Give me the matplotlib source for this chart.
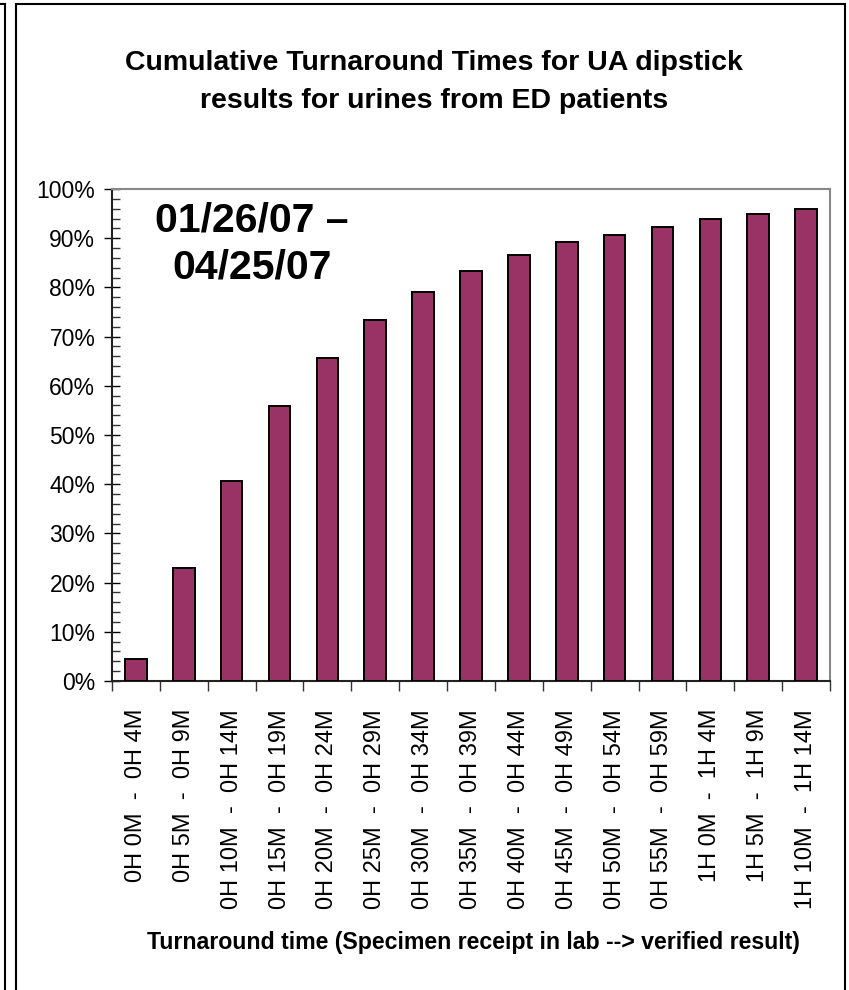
import matplotlib
matplotlib.use("Agg")
import matplotlib.pyplot as plt
from matplotlib.ticker import MultipleLocator, FuncFormatter
from matplotlib.lines import Line2D
from matplotlib.patches import Rectangle
import numpy as np

categories = [
    "0H 0M - 0H 4M", "0H 5M - 0H 9M", "0H 10M - 0H 14M", "0H 15M - 0H 19M",
    "0H 20M - 0H 24M", "0H 25M - 0H 29M", "0H 30M - 0H 34M", "0H 35M - 0H 39M",
    "0H 40M - 0H 44M", "0H 45M - 0H 49M", "0H 50M - 0H 54M", "0H 55M - 0H 59M",
    "1H 0M - 1H 4M", "1H 5M - 1H 9M", "1H 10M - 1H 14M",
]
cumulative_pct = [4.5, 23.0, 40.6, 55.8, 65.7, 73.4, 79.1, 83.3,
                  86.6, 89.2, 90.7, 92.3, 94.0, 94.9, 96.0]

title_text = "Cumulative Turnaround Times for UA dipstick\nresults for urines from ED patients"
date_text = "01/26/07 \u2013\n04/25/07"
xlabel_text = "Turnaround time (Specimen receipt in lab --> verified result)"

plt.rcParams["font.family"] = ["Liberation Sans", "DejaVu Sans"]

W, H = 849, 990
fig = plt.figure(figsize=(W / 100, H / 100), dpi=100)

# frame lines around the slide
fig.add_artist(Line2D([5 / W, 5 / W], [0, 1 - 4 / H], transform=fig.transFigure, color="black", lw=1.5))
fig.add_artist(Line2D([0, 5 / W], [1 - 4 / H, 1 - 4 / H], transform=fig.transFigure, color="black", lw=1.5))
fig.add_artist(Rectangle((16 / W, -0.05), (845 - 16) / W, 1.05 - 4 / H, transform=fig.transFigure,
                         fill=False, edgecolor="black", lw=1.5))

left, right, top, bottom = 112, 830, 189, 681
ax = fig.add_axes([left / W, 1 - bottom / H, (right - left) / W, (bottom - top) / H])

x = np.arange(len(categories))
ax.bar(x, cumulative_pct, width=0.45, color="#993366", edgecolor="black", linewidth=1.4, zorder=3)

ax.set_xlim(-0.5, len(categories) - 0.5)
ax.set_ylim(0, 100)

ax.yaxis.set_major_locator(MultipleLocator(10))
ax.yaxis.set_minor_locator(MultipleLocator(2))
ax.yaxis.set_major_formatter(FuncFormatter(lambda v, p: f"{v:.0f}%"))
ax.tick_params(axis="y", which="major", direction="inout", length=12, width=1, labelsize=16.5, pad=6,
               colors="black")
ax.tick_params(axis="y", which="minor", direction="in", length=6, width=1, color="#333333")

# category boundary ticks along the bottom
ax.set_xticks(np.arange(len(categories) + 1) - 0.5, minor=False)
ax.set_xticklabels([])
ax.tick_params(axis="x", which="major", direction="out", length=7, width=1, color="#333333")
ax.set_xticks(x, minor=True)
ax.set_xticklabels([c.replace(" - ", "  -  ") for c in categories], minor=True, rotation=90,
                   fontsize=17, va="top", ha="center")
ax.tick_params(axis="x", which="minor", length=0, pad=20)

for s in ("left", "bottom"):
    ax.spines[s].set_color("#222222")
    ax.spines[s].set_linewidth(1.5)
for s in ("top", "right"):
    ax.spines[s].set_color("#888888")
    ax.spines[s].set_linewidth(1.5)

fig.text(434 / W, 1 - 82 / H, title_text, ha="center", va="center", fontsize=20.5,
         fontweight="bold", linespacing=1.55)
fig.text(252 / W, 1 - 244 / H, date_text, ha="center", va="center",
         fontsize=29.5, fontweight="bold", linespacing=1.27)
fig.text(473 / W, 1 - 943 / H, xlabel_text, ha="center", va="center", fontsize=16.7,
         fontweight="bold")

fig.savefig("out.png", dpi=100, facecolor="white")
